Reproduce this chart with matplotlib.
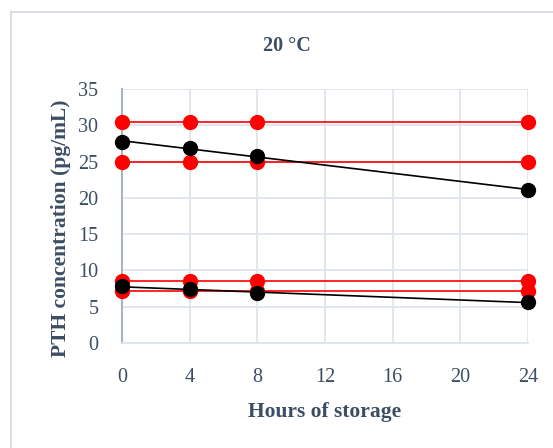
import numpy as np
import matplotlib
matplotlib.use("Agg")
import matplotlib.pyplot as plt
from matplotlib.patches import Rectangle

hours = [0, 4, 8, 24]
red_high_upper = [30.4, 30.4, 30.4, 30.4]
red_high_lower = [24.9, 24.9, 24.9, 24.9]
black_high = [27.7, 26.9, 25.7, 21.1]
red_low_upper = [8.6, 8.6, 8.6, 8.6]
red_low_lower = [7.1, 7.1, 7.1, 7.1]
black_low = [7.8, 7.4, 6.9, 5.6]

xticks = [0, 4, 8, 12, 16, 20, 24]
yticks = [0, 5, 10, 15, 20, 25, 30, 35]

plt.rcParams['font.family'] = ['Liberation Serif', 'DejaVu Serif']
txt = '#3B4E63'

fig = plt.figure(figsize=(5.53, 4.48), dpi=100)
fig.patches.append(Rectangle((11/553, -0.1), 1.2, (448-12)/448 + 0.1, transform=fig.transFigure,
                             facecolor='none', edgecolor='#D9DEE4', lw=1.5))
ax = fig.add_axes([122/553, 1-343/448, (528-122)/553, (343-89)/448])

series = [
    (red_high_upper, 'red'), (red_high_lower, 'red'),
    (red_low_upper, 'red'), (red_low_lower, 'red'),
    (black_high, 'black'), (black_low, 'black'),
]
xs = np.array(hours, dtype=float)
for vals, c in series:
    p = np.polyfit(xs, vals, 1)
    xl = np.array([0, 24])
    ax.plot(xl, np.polyval(p, xl), color=c, lw=1.2, zorder=2)
    ax.plot(hours, vals, 'o', color=c, ms=10, zorder=3, clip_on=False)

ax.set_xlim(0, 24)
ax.set_ylim(0, 35)
ax.set_xticks(xticks)
ax.set_yticks(yticks)
ax.grid(True, color='#DCE3EA', lw=1.2, zorder=0)
ax.set_axisbelow(True)
for s in ['top', 'right']:
    ax.spines[s].set_visible(False)
ax.spines['left'].set_color('#A8B4C2')
ax.spines['left'].set_linewidth(1.5)
ax.spines['bottom'].set_color('#DCE3EA')
ax.spines['bottom'].set_linewidth(1.2)
ax.tick_params(length=0, labelsize=14.5, colors=txt)
ax.tick_params(axis='y', pad=17)
ax.tick_params(axis='x', pad=18)
ax.set_xlabel('Hours of storage', fontsize=15.5, fontweight='bold', color=txt, labelpad=11)
ax.set_ylabel('PTH concentration (pg/mL)', fontsize=15.5, fontweight='bold', color=txt, labelpad=3)
ax.yaxis.set_label_coords(-(122 - 71) / 406, 0.45)
fig.text(287/553, 1-46/448, '20 °C', ha='center', va='center', fontsize=14.5, fontweight='bold', color=txt)

fig.savefig('out.png', dpi=100)
